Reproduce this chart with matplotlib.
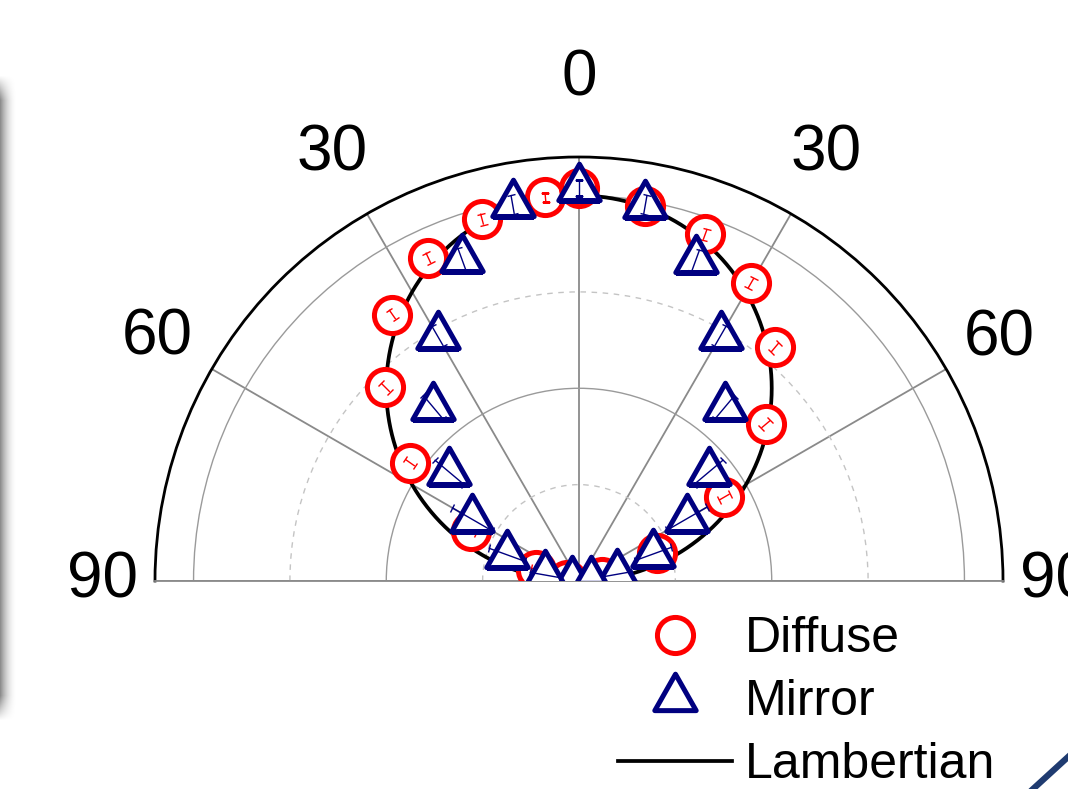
import numpy as np
import matplotlib
matplotlib.use("Agg")
import matplotlib.pyplot as plt
from matplotlib.lines import Line2D
from matplotlib.path import Path

plt.rcParams['font.family'] = ['Liberation Sans', 'DejaVu Sans']

# Normalised radiance vs emission angle (deg, 0 = surface normal)
diffuse_angle = [-85, -75, -65, -55, -45, -35, -25, -15, -5,
                 0, 10, 20, 30, 40, 50, 60, 70, 80]
diffuse_r = [0.03, 0.115, 0.31, 0.535, 0.71, 0.844, 0.925, 0.972, 0.999,
             1.02, 0.989, 0.957, 0.892, 0.791, 0.633, 0.435, 0.214, 0.06]
diffuse_err = [0.015, 0.015, 0.015, 0.015, 0.016, 0.015, 0.015, 0.015, 0.012,
               0.012, 0.012, 0.015, 0.015, 0.015, 0.015, 0.016, 0.015, 0.015]

mirror_angle = [-90, -80, -70, -60, -50, -40, -30, -20, -10,
                0, 10, 20, 30, 40, 50, 60, 70, 80, 90]
mirror_r = [0.017, 0.09, 0.199, 0.321, 0.439, 0.589, 0.734, 0.888, 0.992,
            1.02, 0.991, 0.885, 0.735, 0.588, 0.439, 0.323, 0.205, 0.10, 0.03]
mirror_err = [0.03, 0.04, 0.05, 0.06, 0.05, 0.04, 0.03, 0.03, 0.025,
              0.02, 0.025, 0.03, 0.03, 0.04, 0.05, 0.06, 0.05, 0.04, 0.03]

tick_angles = [-90, -60, -30, 0, 30, 60, 90]
tick_labels = ['90', '60', '30', '0', '30', '60', '90']
minor_angles = [-75, -45, -15, 15, 45, 75]

NAVY = '#000080'

# triangle centred on its centroid (as the original plotting software does)
tri = Path([(0, 0.587), (-0.5, -0.293), (0.5, -0.293), (0, 0.587)],
           [Path.MOVETO, Path.LINETO, Path.LINETO, Path.CLOSEPOLY])
circ_style = dict(marker='o', ms=26, mfc='white', mec='red', mew=3.6)
tri_style = dict(marker=tri, ms=35, mfc='white', mec=NAVY, mew=3.6)
lam_style = dict(color='black', lw=2.7)

W, H = 1068, 789
cx, cy, R = 579, 581, 424   # pole and outer radius in pixels (from top-left)

fig = plt.figure(figsize=(W / 100, H / 100), dpi=100)
# a half-disc polar axes is padded to a square, the half disc sits in its
# middle band, so give it a square box whose middle holds the semicircle
ax = fig.add_axes([(cx - R) / W, (H - cy - R / 2) / H, 2 * R / W, 2 * R / H],
                  projection='polar')
ax.set_aspect('auto')
ax.set_theta_zero_location('N')
ax.set_theta_direction(-1)
ax.set_thetamin(-90)
ax.set_thetamax(90)
ax.set_ylim(0, 1.1)

# angular grid + ticks
ax.set_xticks(np.deg2rad(tick_angles))
ax.set_xticks(np.deg2rad(minor_angles), minor=True)
ax.set_xticklabels([])
ax.tick_params(axis='x', which='major', direction='in', length=11,
               width=1.5, color='black')
ax.tick_params(axis='x', which='minor', direction='in', length=7,
               width=1.2, color='black')
ax.xaxis.grid(True, which='major', color='#8a8a8a', lw=1.3)

# radial grid: solid at 0.5/1.0, dashed at 0.25/0.75
ax.set_yticks([0.5, 1.0])
ax.set_yticks([0.25, 0.75], minor=True)
ax.set_yticklabels([])
ax.tick_params(axis='y', which='both', length=0)
ax.yaxis.grid(True, which='major', color='#9a9a9a', lw=1.0)
ax.yaxis.grid(True, which='minor', color='#c4c4c4', lw=1.0, ls=(0, (4, 4)))

ax.spines['polar'].set_linewidth(2.0)
ax.spines['polar'].set_color('black')
for s in ('start', 'end'):
    ax.spines[s].set_color('#8a8a8a')
    ax.spines[s].set_linewidth(1.3)

# angle labels, placed by hand to follow the original layout
label_r = [1.235, 1.262, 1.28, 1.303, 1.28, 1.258, 1.236]
for a, lab, rr in zip(tick_angles, tick_labels, label_r):
    ax.text(np.deg2rad(a), rr, lab, fontsize=46, ha='center', va='center')

# Lambertian reference: I(theta) = cos(theta)
lam_theta = np.deg2rad(np.linspace(-90, 90, 361))
ax.plot(lam_theta, np.cos(lam_theta), zorder=2, **lam_style)

th_d = np.deg2rad(diffuse_angle)
ax.plot(th_d, diffuse_r, ls='none', zorder=3, **circ_style)
ax.errorbar(th_d, diffuse_r, yerr=diffuse_err, fmt='none', ecolor='red',
            elinewidth=1.0, capsize=3, capthick=1.0, zorder=3.1)

th_m = np.deg2rad(mirror_angle)
ax.plot(th_m, mirror_r, ls='none', zorder=4, **tri_style)
ax.errorbar(th_m, mirror_r, yerr=mirror_err, fmt='none', ecolor=NAVY,
            elinewidth=1.0, capsize=3, capthick=1.0, zorder=4.1)

handles = [
    Line2D([], [], ls='none', **circ_style),
    Line2D([], [], ls='none', **tri_style),
    Line2D([], [], **lam_style),
]
fig.legend(handles, ['Diffuse', 'Mirror', 'Lambertian'], loc='upper left',
           bbox_to_anchor=(618 / W, 1 - 616 / H), frameon=False,
           fontsize=36, handlelength=2.27, handletextpad=0.27,
           labelspacing=0.34, borderpad=0, borderaxespad=0)

# slide leftovers: soft shadow of a panel edge on the left, navy stroke bottom right
edge = fig.add_axes([0, 1 - 725 / H, 20 / W, 655 / H])
fx = np.clip(1 - np.arange(20) / 17.0, 0, 1) ** 2
yy = np.arange(655)
fy = np.clip(np.minimum(yy - 5, 650 - yy) / 25.0, 0, 1)
shade = np.zeros((655, 20, 4))
shade[..., 3] = 0.45 * fy[:, None] * fx[None, :]
edge.imshow(shade, aspect='auto', interpolation='bilinear')
edge.axis('off')
fig.add_artist(Line2D([1033 / W, 1.0], [0, 32 / H], color='#1f3b70',
                      lw=4.5, transform=fig.transFigure))

fig.savefig('out.png', dpi=100)
